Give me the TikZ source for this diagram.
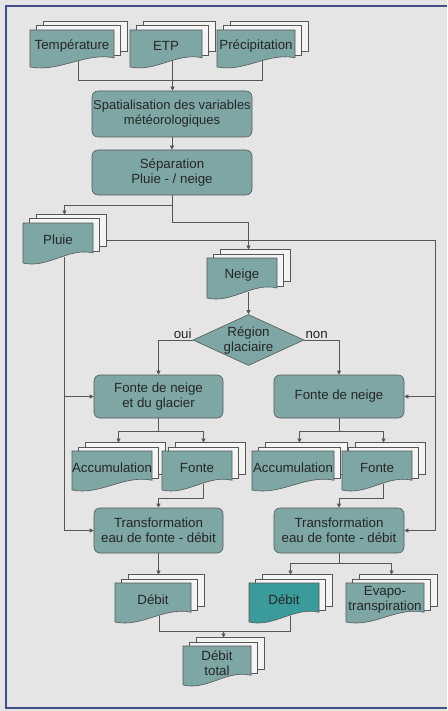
\documentclass[tikz,border=0pt]{standalone}
\usepackage{fontspec}
\setmainfont{Liberation Sans}
\usetikzlibrary{shapes.geometric,arrows.meta,calc}
\definecolor{bgc}{HTML}{E4E5E4}
\definecolor{docfill}{HTML}{7DA6A5}
\definecolor{hifill}{HTML}{3A9B9A}
\definecolor{backfill}{HTML}{F4F4F4}
\definecolor{linec}{HTML}{575757}
\definecolor{framec}{HTML}{3E4F8A}
\definecolor{textc}{HTML}{262626}
\pgfdeclarelayer{paper}
\pgfdeclarelayer{bg}
\pgfsetlayers{paper,bg,main}
\newcommand{\ldx}{6.5}
\newcommand{\ldy}{4.2}
\tikzset{
  every node/.style={font=\fontsize{13.3}{15}\selectfont, text=textc},
  docback/.style={draw=linec, fill=backfill, line width=0.6pt},
  docfront/.style={draw=linec, line width=0.6pt},
  doctext/.style={align=center, inner sep=0pt},
  procbox/.style={draw=linec, fill=docfill, line width=0.6pt, rounded corners=6pt, align=center, inner sep=1pt},
  decbox/.style={draw=linec, fill=docfill, line width=0.6pt, diamond, aspect=2.2, inner sep=0pt, align=center, minimum width=111pt, minimum height=51pt},
  lbl/.style={inner sep=1pt},
  conn/.style={draw=linec, line width=0.6pt},
  arr/.style={conn, -{Triangle[length=4pt,width=4pt]}},
}
\newcommand{\mdoc}[7][docfill]{%
  \begin{scope}[shift={(#3,#4)}]
    \draw[docback] ({2*\ldx},{-2*\ldy}) rectangle ++(#5,{0.8*#6});
    \draw[docback] (\ldx,-\ldy) rectangle ++(#5,{0.8*#6});
    \draw[docfront,fill=#1] (0,0) -- (#5,0) -- (#5,{0.75*#6}) .. controls ({0.65*#5},{0.6*#6}) and ({0.35*#5},{1.15*#6}) .. (0,#6) -- cycle;
    \node[doctext] (#2) at ({#5/2},{0.43*#6}) {#7};
    \coordinate (#2-t) at ({(#5+2*\ldx)/2},{-2*\ldy});
    \coordinate (#2-b) at ({(#5+2*\ldx)/2},{0.84*#6});
    \coordinate (#2-r) at ({#5+2*\ldx},{0.42*#6});
  \end{scope}}
\begin{document}
\begin{tikzpicture}[x=1pt,y=-1pt]
\useasboundingbox (0,0) rectangle (447,711);
\begin{pgfonlayer}{paper}
\fill[bgc] (0,0) rectangle (447,711);
\end{pgfonlayer}
\draw[framec, line width=1.2pt] (6,6) -- (447,6);
\draw[framec, line width=2.5pt] (6,5.4) -- (6,708);
\draw[framec, line width=2.5pt] (4.75,708) -- (447,708);

% input documents
\mdoc{temp}{30}{30}{84}{37}{Température}
\mdoc{etp}{130}{30}{72}{37}{ETP}
\mdoc{prec}{217}{30}{78}{37}{Précipitation}

% process boxes
\node[procbox, minimum width=160pt, minimum height=46pt, font=\fontsize{13}{15}\selectfont] (spat) at (172,114) {Spatialisation des variables\\météorologiques};
\node[procbox, minimum width=160pt, minimum height=45pt] (sep) at (172,172.5) {Séparation\\Pluie - / neige};

\mdoc{pluie}{23}{223}{70}{40}{Pluie}
\mdoc{neige}{207}{258}{70}{40}{Neige}

\node[decbox] (reg) at (248.5,340) {Région\\glaciaire};
\node[lbl, anchor=south east] (oui) at (reg.west) {oui};
\node[lbl, anchor=south west] (non) at (reg.east) {non};

\node[procbox, minimum width=129pt, minimum height=43pt] (fng) at (158.5,396.5) {Fonte de neige\\et du glacier};
\node[procbox, minimum width=130pt, minimum height=43pt] (fn) at (339,396.5) {Fonte de neige};

\mdoc{accL}{72}{451}{80}{39}{Accumulation}
\mdoc{fonteL}{162}{451}{70}{39}{Fonte}
\mdoc{accR}{252}{451}{82}{39}{Accumulation}
\mdoc{fonteR}{342}{451}{70}{39}{Fonte}

\node[procbox, minimum width=129pt, minimum height=45pt] (trL) at (158.5,530.5) {Transformation\\eau de fonte - débit};
\node[procbox, minimum width=130pt, minimum height=45pt] (trR) at (339,530.5) {Transformation\\eau de fonte - débit};

\mdoc{debitL}{115}{583}{76}{39}{Débit}
\mdoc[hifill]{debitM}{249}{583}{70}{39}{Débit}
\mdoc{evapo}{346}{583}{78}{39}{Evapo-\\transpiration}
\mdoc{total}{183}{646}{68}{39}{Débit\\total}

% bus levels
\coordinate (yt) at (0,80);
\coordinate (ys) at (0,205);
\coordinate (yn) at (0,222);
\coordinate (b1) at (0,431);
\coordinate (b2) at (0,498);
\coordinate (b3) at (0,563);
\coordinate (b4) at (0,631);
\coordinate (rb) at (435,0);

\begin{pgfonlayer}{bg}
\draw[conn] (temp-b) |- (prec-b |- yt) -- (prec-b);
\draw[arr] (etp-b) -- (etp-b |- spat.north);
\draw[arr] (spat.south) -- (sep.north);
\draw[arr] (sep.south) |- (pluie-t |- ys) -- (pluie-t);
\draw[arr] (sep.south) |- (neige-t |- yn) -- (neige-t);
\draw[arr] (neige-b) -- (reg.north);
\draw[arr] (reg.west) -| (fng.north);
\draw[arr] (reg.east) -| (fn.north);
\draw[arr] (pluie-b) |- (trL.west);
\draw[arr] (pluie-b |- fng.west) -- (fng.west);
\draw[arr] (pluie-r) -| (rb |- trR.east) -- (trR.east);
\draw[arr] (rb |- fn.east) -- (fn.east);
\draw[arr] (fng.south) |- (accL-t |- b1) -- (accL-t);
\draw[arr] (fng.south) |- (fonteL-t |- b1) -- (fonteL-t);
\draw[arr] (fn.south) |- (accR-t |- b1) -- (accR-t);
\draw[arr] (fn.south) |- (fonteR-t |- b1) -- (fonteR-t);
\draw[arr] (fonteL-b) |- (trL.north |- b2) -- (trL.north);
\draw[arr] (fonteR-b) |- (trR.north |- b2) -- (trR.north);
\draw[arr] (trL.south) -- (trL.south |- debitL-t);
\draw[arr] (trR.south) |- (debitM-t |- b3) -- (debitM-t);
\draw[arr] (trR.south) |- (evapo-t |- b3) -- (evapo-t);
\draw[conn] (debitL-b) |- (debitM-b |- b4) -- (debitM-b);
\draw[arr] (total-t |- b4) -- (total-t);
\end{pgfonlayer}
\end{tikzpicture}
\end{document}
